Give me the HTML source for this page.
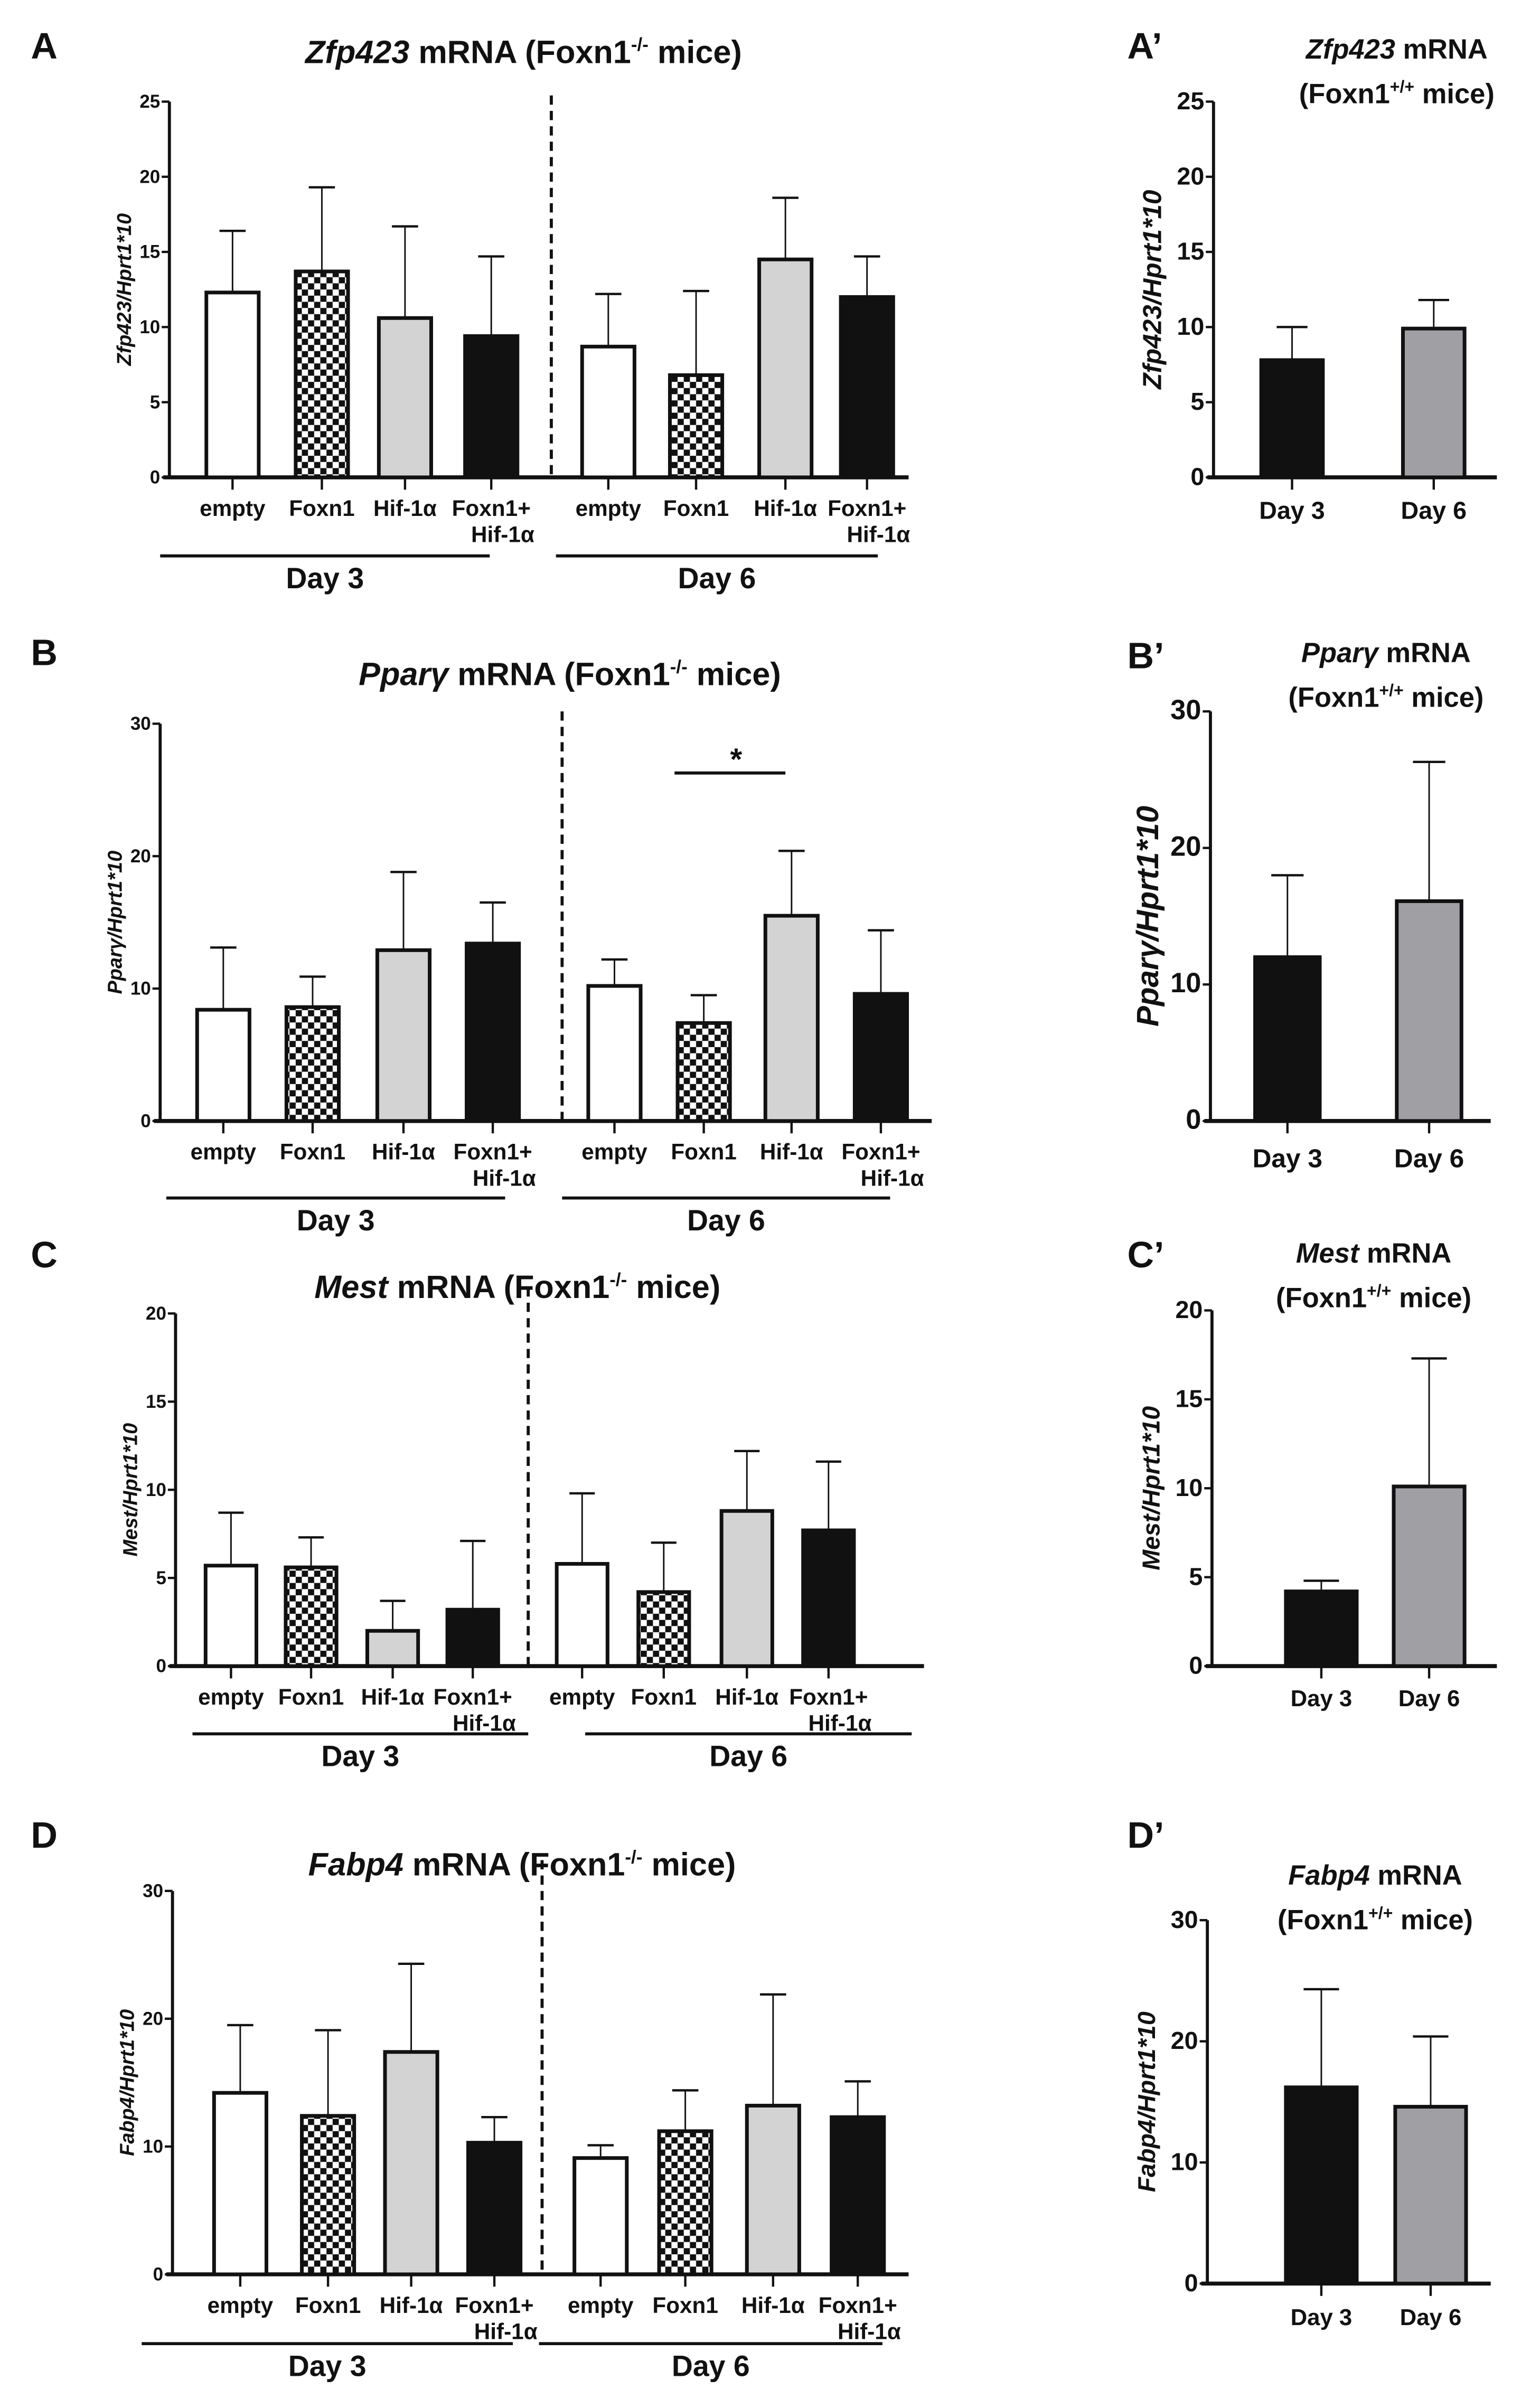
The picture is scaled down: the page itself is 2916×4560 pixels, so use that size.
<!DOCTYPE html>
<html><head><meta charset="utf-8"><style>
html,body{margin:0;padding:0;background:#fff}
svg{display:block}
text{font-family:"Liberation Sans Narrow","Liberation Sans",sans-serif;font-weight:bold;fill:#111}
</style></head><body>
<svg id="fig" xmlns="http://www.w3.org/2000/svg" width="2916" height="4560" viewBox="0 0 1000 1563.8" preserveAspectRatio="none">
<defs>
<pattern id="chk" width="8" height="8" patternUnits="userSpaceOnUse">
<rect width="8" height="8" fill="#fff"/><rect width="4" height="4" fill="#111"/><rect x="4" y="4" width="4" height="4" fill="#111"/>
</pattern>
</defs>
</svg>
<script>
// ---- data arrays ----
const groupLabels = ["empty","Foxn1","Hif-1α","Foxn1+"];
const dayLabels = ["Day 3","Day 6"];
const zfpMeans = [12.3,13.7,10.6,9.4,8.7,6.8,14.5,12.0];
const zfpErrTop = [16.4,19.3,16.7,14.7,12.2,12.4,18.6,14.7];
const zfpWtMeans = [7.8,9.9];
const zfpWtErrTop = [10.0,11.8];
const pparMeans = [8.4,8.6,12.9,13.4,10.2,7.4,15.5,9.6];
const pparErrTop = [13.1,10.9,18.8,16.5,12.2,9.5,20.4,14.4];
const pparWtMeans = [12.0,16.1];
const pparWtErrTop = [18.0,26.3];
const mestMeans = [5.7,5.6,2.0,3.2,5.8,4.2,8.8,7.7];
const mestErrTop = [8.7,7.3,3.7,7.1,9.8,7.0,12.2,11.6];
const mestWtMeans = [4.2,10.1];
const mestWtErrTop = [4.8,17.3];
const fabpMeans = [14.2,12.4,17.4,10.3,9.1,11.2,13.2,12.3];
const fabpErrTop = [19.5,19.1,24.3,12.3,10.1,14.4,21.9,15.1];
const fabpWtMeans = [16.2,14.6];
const fabpWtErrTop = [24.3,20.4];
const zfpTicks=[0,5,10,15,20,25], pparTicks=[0,10,20,30], mestTicks=[0,5,10,15,20], fabpTicks=[0,10,20,30];

const NS="http://www.w3.org/2000/svg";
const svg=document.getElementById('fig');
function mk(tag,attrs,parent){const e=document.createElementNS(NS,tag);for(const k in attrs)e.setAttribute(k,attrs[k]);(parent||svg).appendChild(e);return e;}
function txt(s,x,y,size,parent,anchor){const t=mk('text',{x:x,y:y,'font-size':size,'text-anchor':anchor||'middle'},parent);t.textContent=s;return t;}
const fills=['#fff','url(#chk)','#d3d3d3','#111'];

function mainPanel(cfg){
  const g=mk('g',{});
  
  
  const y=v=>cfg.y0-(v/cfg.max)*(cfg.y0-cfg.yTop);
  const L=txt(cfg.letter,cfg.lx,cfg.ly,24,g,'start');
  
  
  const T=mk('text',{x:cfg.tx,y:cfg.ty,'font-size':21,'text-anchor':'middle'},g);
  
  
  const a=mk('tspan',{'font-style':'italic'},T);a.textContent=cfg.gene;
  const b=mk('tspan',{},T);b.textContent=' mRNA (Foxn1';
  const c=mk('tspan',{dy:-8,'font-size':12},T);c.textContent='-/-';
  const d=mk('tspan',{dy:8},T);d.textContent=' mice)';
  const ya=mk('line',{x1:cfg.ax,x2:cfg.ax,y1:cfg.yTop,y2:cfg.y0,stroke:'#111','stroke-width':2},g);
  
  
  const xa=mk('line',{x1:cfg.ax-4,x2:cfg.axEnd,y1:cfg.y0,y2:cfg.y0,stroke:'#111','stroke-width':2.6},g);
  
  
  cfg.ticks.forEach(v=>{
    mk('line',{x1:cfg.ax-5,x2:cfg.ax,y1:y(v),y2:y(v),stroke:'#111','stroke-width':1.5},g);
    const t=txt(String(v),cfg.ax-6,y(v)+4,12,g,'end');
    
    
  });
  const yt=txt(cfg.yTitle,0,0,13,g);
  yt.setAttribute('transform',`translate(${cfg.ax-25},${(cfg.yTop+cfg.y0)/2}) rotate(-90)`);
  yt.setAttribute('font-style','italic');
  
  
  const dl=mk('line',{x1:cfg.dash,x2:cfg.dash,y1:cfg.dashTop,y2:cfg.y0,stroke:'#111','stroke-width':2,'stroke-dasharray':'6,4'},g);
  
  
  cfg.means.forEach((m,i)=>{
    const cx=cfg.cx[i], w=cfg.bw;
    const e=cfg.err[i];
    const el=mk('line',{x1:cx,x2:cx,y1:y(e),y2:y(m),stroke:'#111','stroke-width':1},g);
    
    
    mk('line',{x1:cx-w/4,x2:cx+w/4,y1:y(e),y2:y(e),stroke:'#111','stroke-width':1.5},g);
    const r=mk('rect',{x:cx-w/2,y:y(m),width:w,height:cfg.y0-y(m),fill:fills[i%4],stroke:'#111','stroke-width':2.4},g);
    
    
    mk('line',{x1:cx,x2:cx,y1:cfg.y0,y2:cfg.y0+8,stroke:'#111','stroke-width':1.5},g);
    const lbl=txt(groupLabels[i%4],cx,cfg.y0+25,14.5,g);
    
    
    if(i%4===3){const l2=txt('Hif-1α',cx+28,cfg.y0+42,14.5,g,'end');
      
      }
  });
  cfg.days.forEach((dd,k)=>{
    const ul=mk('line',{x1:dd[0],x2:dd[1],y1:cfg.uly,y2:cfg.uly,stroke:'#111','stroke-width':2},g);
    
    
    const dt=txt(dayLabels[k],(dd[0]+dd[1])/2,cfg.uly+21,19,g);
    
    
  });
  return {g:g,y:y};
}

function wtPanel(cfg){
  const g=mk('g',{});
  
  
  const y=v=>cfg.y0-(v/cfg.max)*(cfg.y0-cfg.yTop);
  const L=txt(cfg.letter+'’',cfg.lx,cfg.ly,24,g,'start');
  
  
  const T=mk('text',{x:cfg.tx,y:cfg.ty,'font-size':18,'text-anchor':'middle'},g);
  
  
  const a=mk('tspan',{'font-style':'italic'},T);a.textContent=cfg.gene;
  const b=mk('tspan',{},T);b.textContent=' mRNA';
  const T2=mk('text',{x:cfg.tx,y:cfg.ty+29,'font-size':18,'text-anchor':'middle'},g);
  
  
  const c1=mk('tspan',{},T2);c1.textContent='(Foxn1';
  const c2=mk('tspan',{dy:-7,'font-size':11},T2);c2.textContent='+/+';
  const c3=mk('tspan',{dy:7},T2);c3.textContent=' mice)';
  const ya=mk('line',{x1:cfg.ax,x2:cfg.ax,y1:cfg.yTop,y2:cfg.y0,stroke:'#111','stroke-width':2},g);
  
  
  const xa=mk('line',{x1:cfg.ax-4,x2:cfg.axEnd,y1:cfg.y0,y2:cfg.y0,stroke:'#111','stroke-width':2.6},g);
  
  
  cfg.ticks.forEach(v=>{
    mk('line',{x1:cfg.ax-5,x2:cfg.ax,y1:y(v),y2:y(v),stroke:'#111','stroke-width':1.5},g);
    const t=txt(String(v),cfg.ax-6,y(v)+5,cfg.tickSize,g,'end');
    
    
  });
  const yt=txt(cfg.yTitle,0,0,cfg.ytSize,g);
  yt.setAttribute('transform',`translate(${cfg.ax-34},${(cfg.yTop+cfg.y0)/2}) rotate(-90)`);
  yt.setAttribute('font-style','italic');
  
  
  const wf=['#111','#a0a0a4'];
  cfg.means.forEach((m,i)=>{
    const cx=cfg.cx[i],w=cfg.bw,e=cfg.err[i];
    const el=mk('line',{x1:cx,x2:cx,y1:y(e),y2:y(m),stroke:'#111','stroke-width':1},g);
    
    
    mk('line',{x1:cx-w/4,x2:cx+w/4,y1:y(e),y2:y(e),stroke:'#111','stroke-width':1.5},g);
    const r=mk('rect',{x:cx-w/2,y:y(m),width:w,height:cfg.y0-y(m),fill:wf[i],stroke:'#111','stroke-width':2.4},g);
    
    
    mk('line',{x1:cx,x2:cx,y1:cfg.y0,y2:cfg.y0+8,stroke:'#111','stroke-width':1.5},g);
    const l=txt(dayLabels[i],cx,cfg.y0+cfg.lblDy,cfg.lblSize,g);
    
    
  });
}

mainPanel({name:'zfp423',letter:'A',lx:20,ly:38,gene:'Zfp423',tx:340,ty:41,ax:110,axEnd:590,yTop:66,y0:310,max:25,ticks:zfpTicks,
  yTitle:'Zfp423/Hprt1*10',dash:358,dashTop:62,cx:[151,209,263,319,395,452,510,563],bw:34,means:zfpMeans,err:zfpErrTop,
  uly:361,days:[[104,318],[361,570]]});
wtPanel({name:'zfp423',letter:'A',lx:732,ly:38,gene:'Zfp423',tx:907,ty:38,ax:788,axEnd:972,yTop:66,y0:310,max:25,ticks:zfpTicks,
  yTitle:'Zfp423/Hprt1*10',cx:[839,931],bw:40,means:zfpWtMeans,err:zfpWtErrTop,tickSize:16,ytSize:17,lblDy:27,lblSize:16});
mainPanel({name:'ppar',letter:'B',lx:20,ly:432,gene:'Pparγ',tx:370,ty:445,ax:104,axEnd:605,yTop:470,y0:728,max:30,ticks:pparTicks,
  yTitle:'Pparγ/Hprt1*10',dash:365,dashTop:462,cx:[145,203,262,320,399,457,514,572],bw:34,means:pparMeans,err:pparErrTop,
  uly:778,days:[[108,328],[365,578]]});
const sl=mk('line',{x1:438,x2:510,y1:502,y2:502,stroke:'#111','stroke-width':2});


const st=txt('*',478,500,20);


wtPanel({name:'ppar',letter:'B',lx:732,ly:434,gene:'Pparγ',tx:900,ty:430,ax:786,axEnd:968,yTop:462,y0:728,max:30,ticks:pparTicks,
  yTitle:'Pparγ/Hprt1*10',cx:[836,928],bw:42,means:pparWtMeans,err:pparWtErrTop,tickSize:18,ytSize:20,lblDy:30,lblSize:17});
mainPanel({name:'mest',letter:'C',lx:20,ly:823,gene:'Mest',tx:336,ty:843,ax:114,axEnd:600,yTop:853,y0:1082,max:20,ticks:mestTicks,
  yTitle:'Mest/Hprt1*10',dash:343,dashTop:836,cx:[150,202,255,307,378,431,485,538],bw:33,means:mestMeans,err:mestErrTop,
  uly:1126,days:[[125,343],[380,592]]});
wtPanel({name:'mest',letter:'C',lx:732,ly:823,gene:'Mest',tx:892,ty:820,ax:787,axEnd:972,yTop:851,y0:1082,max:20,ticks:mestTicks,
  yTitle:'Mest/Hprt1*10',cx:[858,928],bw:46,means:mestWtMeans,err:mestWtErrTop,tickSize:16,ytSize:16,lblDy:26,lblSize:15});
mainPanel({name:'fabp4',letter:'D',lx:20,ly:1200,gene:'Fabp4',tx:339,ty:1218,ax:112,axEnd:590,yTop:1228,y0:1477,max:30,ticks:fabpTicks,
  yTitle:'Fabp4/Hprt1*10',dash:352,dashTop:1208,cx:[156,213,267,321,390,445,502,557],bw:34,means:fabpMeans,err:fabpErrTop,
  uly:1522,days:[[92,333],[350,573]]});
wtPanel({name:'fabp4',letter:'D',lx:732,ly:1200,gene:'Fabp4',tx:893,ty:1224,ax:784,axEnd:968,yTop:1247,y0:1483,max:30,ticks:fabpTicks,
  yTitle:'Fabp4/Hprt1*10',cx:[858,929],bw:46,means:fabpWtMeans,err:fabpWtErrTop,tickSize:16,ytSize:16,lblDy:27,lblSize:15});
</script>
</body></html>
